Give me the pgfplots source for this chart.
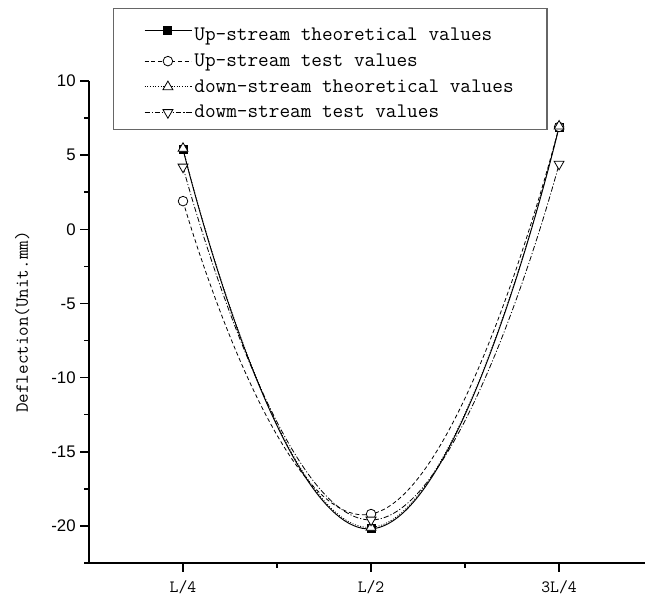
\documentclass[border=0pt]{standalone}
\usepackage{fontspec}
\setmainfont{Liberation Sans}
\usepackage{pgfplots}
\pgfplotsset{compat=1.18}
\pgfplotsset{mylegend/.style={legend image code/.code={%
  \draw[mark repeat=2,mark phase=2] plot coordinates {(0pt,0pt)(17.5pt,0pt)(35pt,0pt)};}}}
\begin{document}
\begin{tikzpicture}
\useasboundingbox (0,0) rectangle (483.75pt,452.25pt);
\begin{axis}[
  at={(66.75pt,30pt)}, anchor=south west,
  scale only axis, width=417pt, height=361.5pt,
  xmin=0.5, xmax=3.457, ymin=-22.5, ymax=10,
  axis x line*=bottom, axis y line*=left,
  axis line style={-, line width=1.2pt},
  tick style={line width=1.2pt, black},
  tick align=outside,
  major tick length=6.5pt, minor tick length=3.5pt,
  xtick={1,2,3}, xticklabels={L/4,L/2,3L/4},
  minor xtick={1.5,2.5},
  ytick={-20,-15,-10,-5,0,5,10},
  minor ytick={-22.5,-17.5,-12.5,-7.5,-2.5,2.5,7.5},
  xticklabel style={font=\fontsize{12.9}{14}\ttfamily, yshift=-3pt},
  yticklabel style={font=\fontsize{12.6}{14}\selectfont},
  /pgf/number format/assume math mode=true,
  ylabel={Deflection(Unit.mm)},
  every axis y label/.style={at={(axis description cs:-0.12,0.5)}, rotate=90, anchor=center, font=\fontsize{13.9}{15}\ttfamily},
  clip=false,
  legend cell align=left,
  legend style={at={(rel axis cs:0.043,1.151)}, anchor=north west,
    draw=black!60, line width=0.8pt, font=\fontsize{15.5}{17}\ttfamily,
    inner xsep=23pt, inner ysep=5pt, row sep=4.3pt,
    /tikz/every even column/.append style={column sep=3.5pt}},
]
\addplot[mylegend, black, line width=0.7pt, smooth, tension=0.9, mark=square*, mark size=3pt, mark options={solid, fill=black}]
  coordinates {(1,5.4) (2,-20.2) (3,6.9)};
\addlegendentry{\rule{0pt}{17pt}Up-stream theoretical values}
\addplot[mylegend, black, line width=0.6pt, smooth, tension=0.9, dash pattern=on 3pt off 2pt, mark=*, mark size=3.6pt, mark options={solid, fill=white}]
  coordinates {(1,1.9) (2,-19.2) (3,6.9)};
\addlegendentry{Up-stream test values}
\addplot[mylegend, black, line width=0.6pt, smooth, tension=0.9, dash pattern=on 0.8pt off 1.2pt, mark=triangle*, mark size=4.3pt, mark options={solid, fill=white}]
  coordinates {(1,5.45) (2,-20.1) (3,6.95)};
\addlegendentry{down-stream theoretical values}
\addplot[mylegend, black, line width=0.6pt, smooth, tension=0.9, dash pattern=on 4pt off 1.5pt on 0.8pt off 1.5pt, mark=triangle*, mark size=4.3pt, mark options={solid, fill=white, rotate=180}]
  coordinates {(1,4.2) (2,-19.6) (3,4.4)};
\addlegendentry{dowm-stream test values}
\end{axis}
\end{tikzpicture}
\end{document}
